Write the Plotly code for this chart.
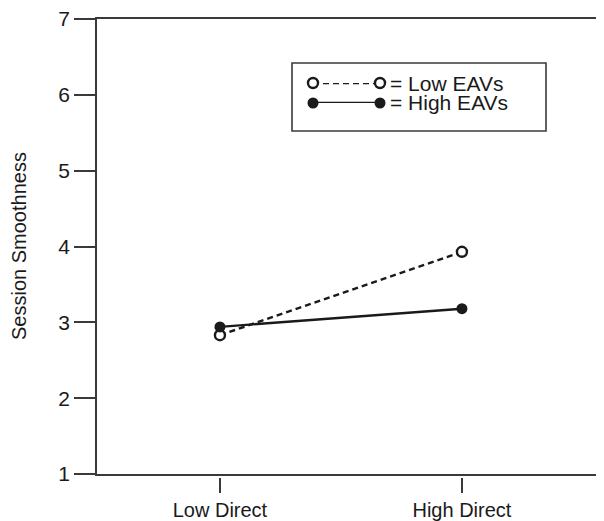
import plotly.graph_objects as go

categories = ["Low Direct", "High Direct"]
low_eavs = [2.83, 3.93]
high_eavs = [2.94, 3.18]
y_ticks = [1, 2, 3, 4, 5, 6, 7]
y_title = "Session Smoothness"
legend_labels = ["= Low EAVs", "= High EAVs"]

OFF = 8  # default page margin of the html body
W, H = 604 - OFF, 521 - OFF
L, R, T, B = 97 - OFF, 0, 19 - OFF, 44
pw, ph = W - L - R, H - T - B

def px_x(x):
    return (x - OFF - L) / pw

def px_y(y):
    return (H - B - (y - OFF)) / ph

ink = "#1a1a1a"
axc = "#3a3a3a"
font = "Liberation Sans, Arial, sans-serif"
fs = 21

fig = go.Figure()

fig.add_trace(go.Scatter(
    x=categories, y=low_eavs, mode="lines+markers", name="Low EAVs",
    line=dict(color=ink, width=2.4, dash="6px,4px"),
    marker=dict(symbol="circle", size=10, color="white", line=dict(color=ink, width=2.4)),
    cliponaxis=False, showlegend=False,
))
fig.add_trace(go.Scatter(
    x=categories, y=high_eavs, mode="lines+markers", name="High EAVs",
    line=dict(color=ink, width=2.4),
    marker=dict(symbol="circle", size=11, color=ink),
    cliponaxis=False, showlegend=False,
))

# legend samples drawn on a small helper axis
fig.add_trace(go.Scatter(
    x=[0, 1], y=[1, 1], mode="lines+markers", xaxis="x3", yaxis="y3",
    line=dict(color=ink, width=2.4, dash="6px,4px"),
    marker=dict(symbol="circle", size=10, color="white", line=dict(color=ink, width=2.4)),
    cliponaxis=False, showlegend=False, hoverinfo="skip",
))
fig.add_trace(go.Scatter(
    x=[0, 1], y=[0, 0], mode="lines+markers", xaxis="x3", yaxis="y3",
    line=dict(color=ink, width=2.4),
    marker=dict(symbol="circle", size=11, color=ink),
    cliponaxis=False, showlegend=False, hoverinfo="skip",
))
# invisible trace to activate the tick-only x axis
fig.add_trace(go.Scatter(
    x=categories, y=[None, None], xaxis="x2", yaxis="y", mode="markers",
    showlegend=False, hoverinfo="skip",
))

gap = 3 / ph
xr = [-0.508, 1.587]

fig.update_layout(
    width=W, height=H,
    margin=dict(l=L, r=R, t=T, b=B, pad=0, autoexpand=False),
    paper_bgcolor="white", plot_bgcolor="white",
    font=dict(family=font, size=fs, color=ink),
    xaxis=dict(
        type="category", range=xr, showline=True, linecolor=axc, linewidth=1.6,
        mirror=True, ticks="", showticklabels=False, showgrid=False, zeroline=False,
        anchor="y", automargin=False,
    ),
    xaxis2=dict(
        type="category", range=xr, overlaying="x", anchor="free", position=0,
        side="bottom", showline=False, ticks="outside", ticklen=15, tickwidth=1.6,
        tickcolor=axc, showgrid=False, zeroline=False, automargin=False,
        tickfont=dict(size=20, color=ink), ticklabeloverflow="allow",
    ),
    yaxis=dict(
        domain=[gap, 1], range=[1, 7], tickvals=y_ticks, showline=True,
        linecolor=axc, linewidth=1.6, ticks="outside", ticklen=21, tickwidth=1.6,
        tickcolor=axc, showgrid=False, zeroline=False, automargin=False,
        tickfont=dict(size=fs, color=ink), ticklabeloverflow="allow",
    ),
    xaxis3=dict(domain=[px_x(313), px_x(380)], range=[0, 1], visible=False, anchor="y3"),
    yaxis3=dict(domain=[px_y(103), px_y(83)], range=[0, 1], visible=False, anchor="x3"),
    shapes=[dict(
        type="rect", xref="paper", yref="paper",
        x0=px_x(292), x1=px_x(546), y0=px_y(131), y1=px_y(63),
        line=dict(color=axc, width=1.6), fillcolor="rgba(0,0,0,0)",
    )],
    annotations=[
        dict(text=legend_labels[0], xref="paper", yref="paper", x=px_x(388), y=px_y(83),
             xanchor="left", yanchor="middle", showarrow=False, font=dict(size=fs, color=ink)),
        dict(text=legend_labels[1], xref="paper", yref="paper", x=px_x(388), y=px_y(103),
             xanchor="left", yanchor="middle", showarrow=False, font=dict(size=fs, color=ink)),
        dict(text=y_title, xref="paper", yref="paper", x=px_x(19), y=px_y(246),
             xanchor="center", yanchor="middle", textangle=-90, showarrow=False,
             font=dict(size=20, color=ink)),
    ],
)

fig.write_html("out.html")
